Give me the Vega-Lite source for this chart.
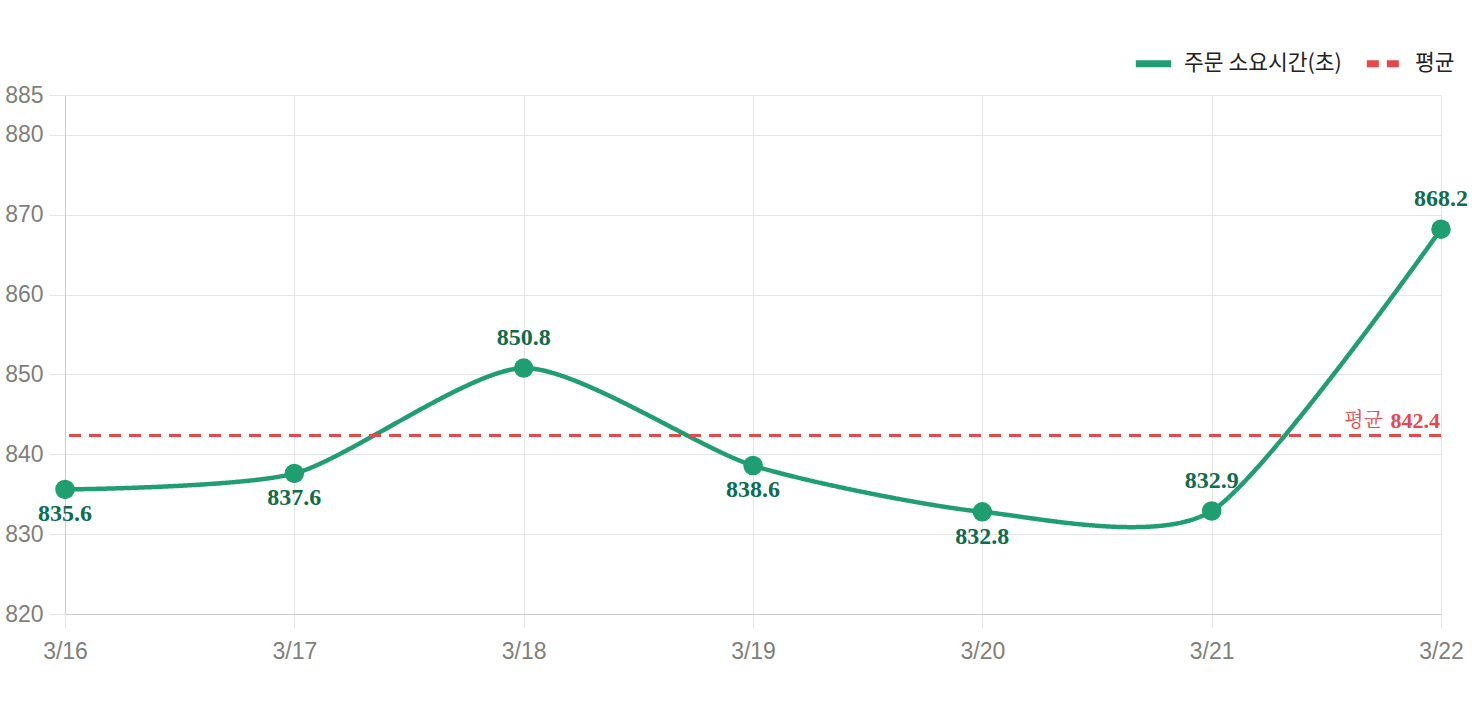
{
  "$schema": "https://vega.github.io/schema/vega-lite/v6.json",
  "width": 1376,
  "height": 519,
  "autosize": "none",
  "padding": {"left": 65, "top": 95, "right": 31, "bottom": 90},
  "background": "#ffffff",
  "view": {"stroke": null},
  "config": {
    "font": "Liberation Sans",
    "axis": {
      "gridColor": "#e6e6e6",
      "domainColor": "#cccccc",
      "tickColor": "#e6e6e6",
      "labelColor": "#7f7f7a",
      "labelFont": "Liberation Sans",
      "labelFontSize": 22,
      "title": null
    },
    "legend": {
      "labelFont": "Noto Sans CJK KR",
      "labelFontSize": 21.5,
      "labelColor": "#222222",
      "labelLimit": 400
    }
  },
  "data": {
    "values": [
      {"date": "3/16", "value": 835.6},
      {"date": "3/17", "value": 837.6},
      {"date": "3/18", "value": 850.8},
      {"date": "3/19", "value": 838.6},
      {"date": "3/20", "value": 832.8},
      {"date": "3/21", "value": 832.9},
      {"date": "3/22", "value": 868.2}
    ]
  },
  "encoding": {
    "x": {
      "field": "date",
      "type": "ordinal",
      "sort": null,
      "scale": {"type": "point", "padding": 0},
      "axis": {"labelAngle": 0, "tickSize": 14, "labelPadding": 12, "grid": true, "labelFontSize": 23}
    }
  },
  "layer": [
    {
      "mark": {"type": "line", "interpolate": "cardinal", "tension": 0.3, "strokeWidth": 4.5},
      "encoding": {
        "y": {
          "field": "value",
          "type": "quantitative",
          "scale": {"domain": [820, 885], "nice": false, "zero": false},
          "axis": {"values": [820, 830, 840, 850, 860, 870, 880, 885], "tickSize": 16, "labelPadding": 6, "labelFontSize": 23}
        },
        "color": {
          "datum": "주문 소요시간(초)",
          "type": "nominal",
          "scale": {"domain": ["주문 소요시간(초)", "평균"], "range": ["#1f9e72", "#e8474b"]},
          "legend": {
            "title": null,
            "orient": "none",
            "direction": "horizontal",
            "legendX": 1067,
            "legendY": -53,
            "symbolType": "stroke",
            "symbolSize": 1250,
            "symbolStrokeWidth": 7,
            "labelOffset": 9,
            "columnPadding": 10
          }
        },
        "strokeDash": {
          "datum": "주문 소요시간(초)",
          "type": "nominal",
          "scale": {"domain": ["주문 소요시간(초)", "평균"], "range": [[1, 0], [12, 8]]},
          "legend": null
        }
      }
    },
    {
      "mark": {"type": "point", "filled": true, "opacity": 1, "size": 380, "color": "#1f9e72"},
      "encoding": {"y": {"field": "value", "type": "quantitative"}}
    },
    {
      "transform": [{"aggregate": [{"op": "mean", "field": "value", "as": "avg"}]}],
      "mark": {"type": "rule", "strokeWidth": 3},
      "encoding": {
        "x": null,
        "y": {"field": "avg", "type": "quantitative"},
        "color": {"datum": "평균", "type": "nominal"},
        "strokeDash": {"datum": "평균", "type": "nominal"}
      }
    },
    {
      "transform": [{"filter": {"field": "date", "oneOf": ["3/16", "3/17", "3/19", "3/20"]}}],
      "mark": {"type": "text", "font": "Liberation Serif", "fontWeight": "bold", "fontSize": 24, "color": "#0e6c4f", "dy": 25},
      "encoding": {
        "y": {"field": "value", "type": "quantitative"},
        "text": {"field": "value", "type": "quantitative", "format": ".1f"}
      }
    },
    {
      "transform": [{"filter": {"field": "date", "oneOf": ["3/18", "3/21", "3/22"]}}],
      "mark": {"type": "text", "font": "Liberation Serif", "fontWeight": "bold", "fontSize": 24, "color": "#0e6c4f", "dy": -30},
      "encoding": {
        "y": {"field": "value", "type": "quantitative"},
        "text": {"field": "value", "type": "quantitative", "format": ".1f"}
      }
    },
    {
      "transform": [{"aggregate": [{"op": "mean", "field": "value", "as": "avg"}]}],
      "mark": {"type": "text", "font": "Liberation Serif", "fontWeight": "bold", "fontSize": 22, "color": "#e8474b", "align": "right", "dy": -14, "dx": -1},
      "encoding": {
        "x": {"datum": "3/22"},
        "y": {"field": "avg", "type": "quantitative"},
        "text": {"field": "avg", "type": "quantitative", "format": ".1f"}
      }
    },
    {
      "transform": [{"aggregate": [{"op": "mean", "field": "value", "as": "avg"}]}],
      "mark": {"type": "text", "font": "Noto Serif CJK KR", "fontSize": 20, "color": "#e8474b", "align": "right", "dy": -14, "dx": -58, "text": "평균"},
      "encoding": {
        "x": {"datum": "3/22"},
        "y": {"field": "avg", "type": "quantitative"}
      }
    }
  ]
}
